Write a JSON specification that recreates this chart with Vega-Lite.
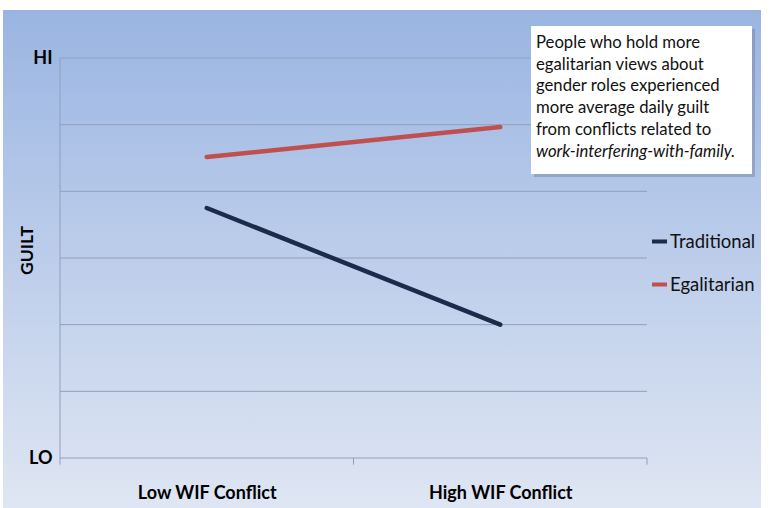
{
  "$schema": "https://vega.github.io/schema/vega-lite/v6.json",
  "autosize": {"type": "none"},
  "width": 587,
  "height": 400,
  "padding": {"left": 60, "top": 58, "right": 123, "bottom": 50},
  "background": "white",
  "config": {"view": {"stroke": null}, "font": "Lato"},
  "datasets": {
    "series": [
      {"conflict": "Low WIF Conflict", "view": "Traditional", "guilt": 3.75},
      {"conflict": "High WIF Conflict", "view": "Traditional", "guilt": 2.0},
      {"conflict": "Low WIF Conflict", "view": "Egalitarian", "guilt": 4.515},
      {"conflict": "High WIF Conflict", "view": "Egalitarian", "guilt": 4.965}
    ],
    "grid": [{"g": 0}, {"g": 1}, {"g": 2}, {"g": 3}, {"g": 4}, {"g": 5}, {"g": 6}],
    "ticks": [{"t": 0}, {"t": 0.5}, {"t": 1}]
  },
  "resolve": {"scale": {"x": "independent"}, "axis": {"x": "independent"}},
  "layer": [
    {
      "layer": [
        {
          "data": {"values": [{}]},
          "mark": {
            "type": "rect",
            "color": {
              "gradient": "linear", "x1": 0, "y1": 0, "x2": 0, "y2": 1,
              "stops": [
                {"offset": 0, "color": "#9ab5e2"},
                {"offset": 1, "color": "#dfe6f3"}
              ]
            }
          },
          "encoding": {
            "x": {"datum": -0.0971, "type": "quantitative", "scale": {"domain": [0, 1], "nice": false, "zero": false}, "axis": null},
            "x2": {"datum": 1.1942},
            "y": {"datum": 6.72, "type": "quantitative", "scale": {"domain": [0, 6], "nice": false, "zero": false}},
            "y2": {"datum": -0.75}
          }
        },
        {
          "data": {"name": "grid"},
          "mark": {"type": "rule", "color": "#909fbd", "strokeWidth": 1},
          "encoding": {
            "x": {"datum": 0, "type": "quantitative"},
            "x2": {"datum": 1},
            "y": {"field": "g", "type": "quantitative"}
          }
        },
        {
          "data": {"values": [{}]},
          "mark": {"type": "rule", "color": "#909fbd", "strokeWidth": 1},
          "encoding": {
            "x": {"datum": 0, "type": "quantitative"},
            "y": {"datum": 0, "type": "quantitative"},
            "y2": {"datum": 6}
          }
        },
        {
          "data": {"name": "ticks"},
          "mark": {"type": "rule", "color": "#909fbd", "strokeWidth": 1},
          "encoding": {
            "x": {"field": "t", "type": "quantitative"},
            "y": {"datum": 0, "type": "quantitative"},
            "y2": {"datum": -0.1}
          }
        },
        {
          "data": {"values": [{}]},
          "mark": {"type": "rect", "color": "#6f7f99", "opacity": 0.45},
          "encoding": {
            "x": {"datum": 0.8075, "type": "quantitative"},
            "x2": {"datum": 1.184},
            "y": {"datum": 6.435, "type": "quantitative"},
            "y2": {"datum": 4.215}
          }
        },
        {
          "data": {"values": [{}]},
          "mark": {"type": "rect", "color": "white"},
          "encoding": {
            "x": {"datum": 0.8024, "type": "quantitative"},
            "x2": {"datum": 1.1789},
            "y": {"datum": 6.48, "type": "quantitative"},
            "y2": {"datum": 4.26}
          }
        },
        {
          "data": {"values": [{"note": ["People who hold more", "egalitarian views about", "gender roles experienced", "more average daily guilt", "from conflicts related to"]}]},
          "mark": {"type": "text", "align": "left", "baseline": "alphabetic", "fontSize": 16.7, "lineHeight": 21.7, "color": "#111111", "font": "Lato"},
          "encoding": {
            "x": {"datum": 0.8109, "type": "quantitative"},
            "y": {"datum": 6.15, "type": "quantitative"},
            "text": {"field": "note"}
          }
        },
        {
          "data": {"values": [{"note": "work-interfering-with-family."}]},
          "mark": {"type": "text", "align": "left", "baseline": "alphabetic", "fontSize": 16.7, "fontStyle": "italic", "color": "#111111", "font": "Lato"},
          "encoding": {
            "x": {"datum": 0.8109, "type": "quantitative"},
            "y": {"datum": 4.5225, "type": "quantitative"},
            "text": {"field": "note"}
          }
        }
      ]
    },
    {
      "data": {"name": "series"},
      "mark": {"type": "line", "strokeWidth": 4.5, "strokeCap": "round"},
      "encoding": {
        "x": {
          "field": "conflict", "type": "nominal",
          "scale": {"type": "point", "padding": 0.5, "domain": ["Low WIF Conflict", "High WIF Conflict"]},
          "axis": {"orient": "bottom", "title": null, "domain": false, "ticks": false, "grid": false, "labelAngle": 0, "labelFontSize": 18, "labelFontWeight": "bold", "labelColor": "#000000", "labelBaseline": "alphabetic", "labelPadding": 40, "labelFont": "Lato", "zindex": 1}
        },
        "y": {
          "field": "guilt", "type": "quantitative",
          "scale": {"domain": [0, 6], "nice": false, "zero": false},
          "axis": {"title": "GUILT", "values": [0, 6], "labelExpr": "datum.value == 6 ? 'HI' : 'LO'", "domain": false, "ticks": false, "grid": false, "labelFontSize": 18, "labelFontWeight": "bold", "labelColor": "#000000", "labelPadding": 8, "labelFont": "Lato", "titleFont": "Lato", "titleFontSize": 17.5, "titleFontWeight": "bold", "titleColor": "#000000", "titleX": -33, "titleY": 192, "titleAngle": -90, "titleAlign": "center", "titleBaseline": "middle", "zindex": 1}
        },
        "color": {
          "field": "view", "type": "nominal",
          "scale": {"domain": ["Traditional", "Egalitarian"], "range": ["#1a2b4b", "#c0504d"]},
          "legend": {"title": null, "orient": "none", "legendX": 590, "legendY": 174, "symbolType": "stroke", "symbolSize": 225, "symbolStrokeWidth": 4, "labelFontSize": 18.5, "labelFont": "Lato", "labelColor": "#111111", "labelOffset": 1, "rowPadding": 24, "zindex": 1}
        }
      }
    }
  ]
}
